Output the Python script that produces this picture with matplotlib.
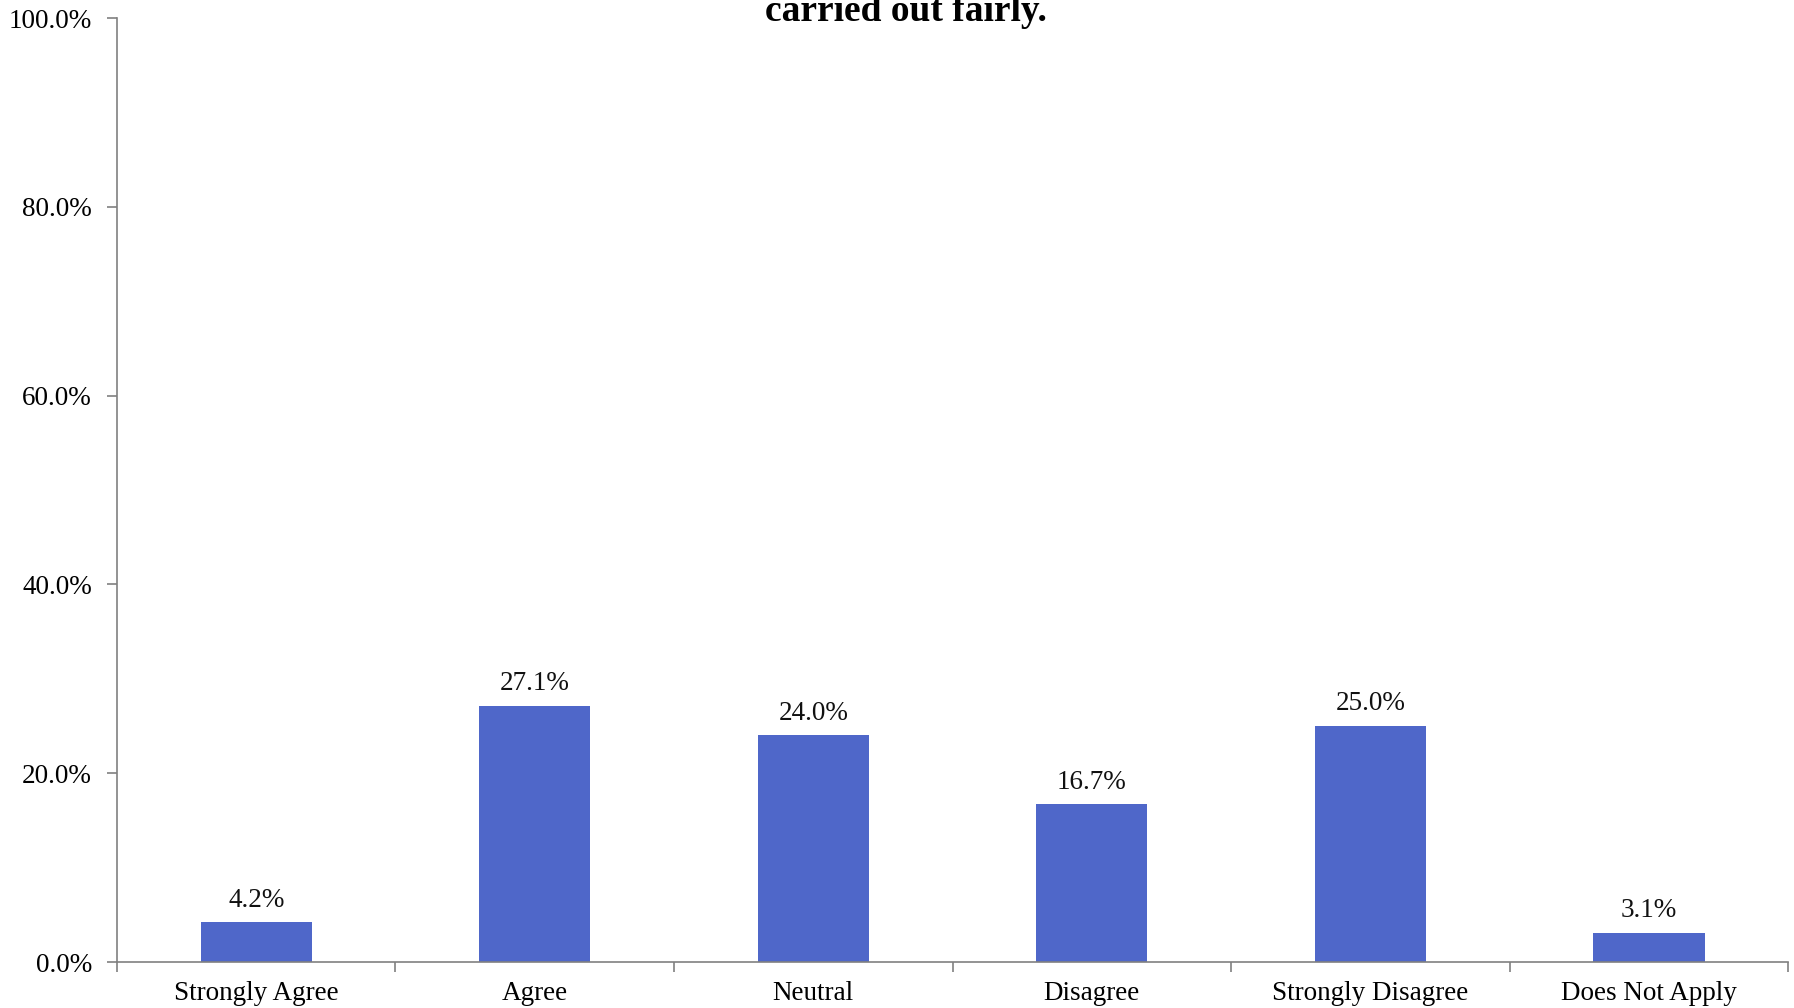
import matplotlib
matplotlib.use("Agg")
import matplotlib.pyplot as plt
from matplotlib.ticker import FixedLocator, PercentFormatter

categories = ["Strongly Agree", "Agree", "Neutral", "Disagree", "Strongly Disagree", "Does Not Apply"]
values = [4.2, 27.1, 24.0, 16.7, 25.0, 3.1]
labels = ["4.2%", "27.1%", "24.0%", "16.7%", "25.0%", "3.1%"]
yticks = [0, 20, 40, 60, 80, 100]
title = "carried out fairly."

plt.rcParams['font.family'] = ['Liberation Serif', 'DejaVu Serif']

fig = plt.figure(figsize=(17.94, 10.08), dpi=100)
ax = fig.add_axes([0.0652, 0.0456, 0.9315, 0.9365])

x = list(range(len(categories)))
ax.bar(x, values, width=0.4, color='#4F67C9', zorder=2)
for xi, v, lab in zip(x, values, labels):
    ax.annotate(lab, (xi, v), xytext=(0, 7), textcoords='offset points',
                ha='center', va='bottom', fontsize=19.5, color='#111111')

ax.set_xlim(-0.5, len(categories) - 0.5)
ax.set_ylim(0, 100)
ax.set_yticks(yticks)
ax.yaxis.set_major_formatter(PercentFormatter(decimals=1))
ax.set_xticks(x)
ax.set_xticklabels(categories)
ax.xaxis.set_minor_locator(FixedLocator([i - 0.5 for i in range(len(categories) + 1)]))
ax.tick_params(axis='x', which='major', length=0, pad=14, labelsize=19.5)
ax.tick_params(axis='x', which='minor', length=7, color='#808080', width=1.2)
ax.tick_params(axis='y', length=7, color='#808080', width=1.2, pad=11, labelsize=19.5)

for s in ['top', 'right']:
    ax.spines[s].set_visible(False)
for s in ['left', 'bottom']:
    ax.spines[s].set_color('#808080')
    ax.spines[s].set_linewidth(1.2)

fig.text(0.505, 0.979, title, ha='center', va='baseline', fontsize=27, fontweight='bold')

fig.savefig("out.png", dpi=100)
